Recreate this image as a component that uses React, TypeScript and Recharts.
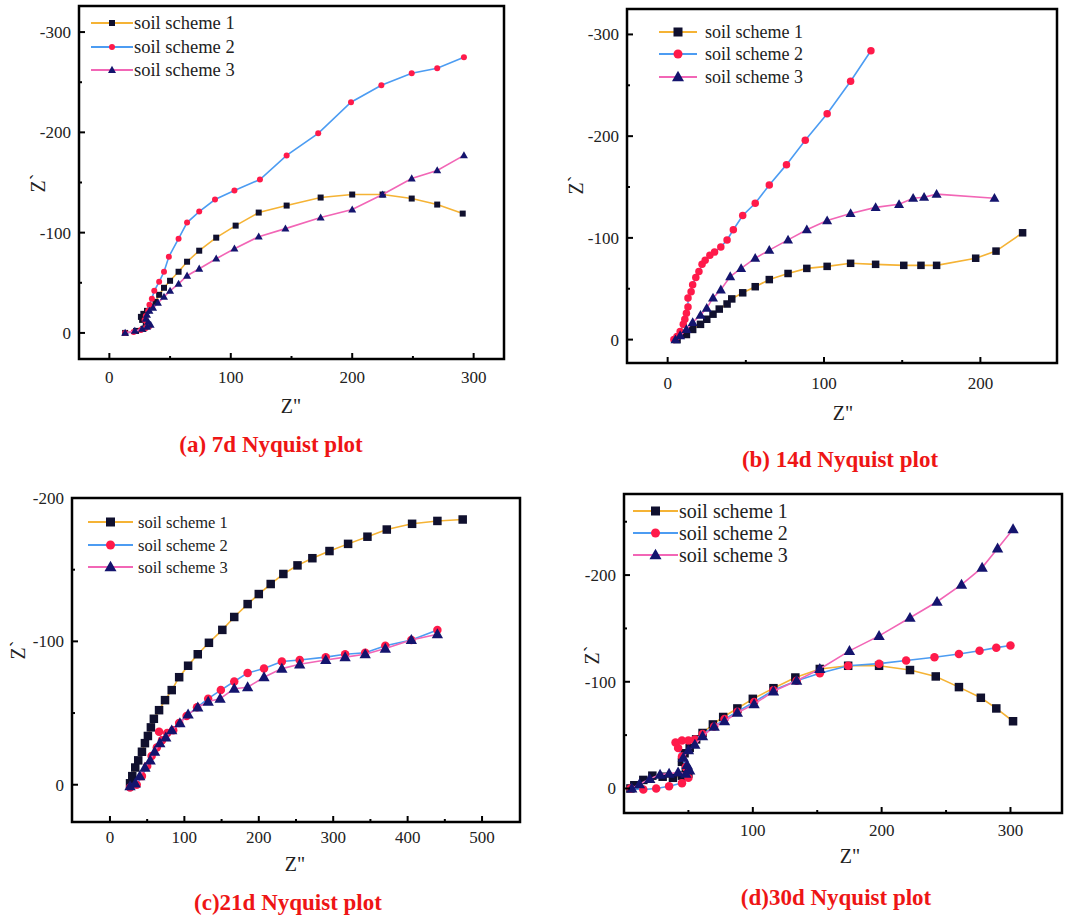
import React from 'react';
import { ScatterChart, Scatter, XAxis, YAxis, ReferenceArea } from 'recharts';

type Pair = [number, number];

// Z'' , Z' pairs (Z' plotted negative, axis reversed)

// (a) 7d
const a7dScheme1: Pair[] = [
  [13, 0], [22, -2], [28, -4], [32, -7], [30, -10], [27, -13], [26, -16], [28, -19], [31, -22],
  [34, -26], [38, -31], [41, -38], [45, -45], [50, -52], [57, -61], [64, -71], [74, -82], [88, -95],
  [104, -107], [123, -120], [146, -127], [174, -135], [200, -138], [225, -138], [249, -134],
  [270, -128], [291, -119],
];
const a7dScheme2: Pair[] = [
  [13, 0], [20, -1], [26, -3], [30, -5], [33, -7], [31, -10], [29, -13], [30, -17], [32, -22],
  [33, -28], [35, -34], [37, -42], [41, -51], [45, -61], [49, -76], [57, -94], [64, -110],
  [74, -121], [87, -133], [103, -142], [124, -153], [146, -177], [172, -199], [199, -230],
  [224, -247], [249, -259], [270, -264], [292, -275],
];
const a7dScheme3: Pair[] = [
  [13, 0], [21, -2], [27, -4], [31, -6], [34, -8], [32, -11], [30, -14], [31, -18], [33, -22],
  [36, -25], [40, -30], [45, -36], [50, -42], [57, -49], [64, -57], [74, -64], [88, -74],
  [103, -84], [123, -96], [145, -104], [174, -115], [200, -123], [225, -138], [249, -154],
  [270, -162], [292, -177],
];

// (b) 14d
const b14dScheme1: Pair[] = [
  [6, 0], [12, -5], [16, -10], [21, -15], [25, -20], [29, -25], [33, -30], [38, -35], [41, -40],
  [48, -46], [56, -52], [65, -59], [77, -65], [89, -70], [102, -72], [117, -75], [133, -74],
  [151, -73], [162, -73], [172, -73], [197, -80], [210, -87], [227, -105],
];
const b14dScheme2: Pair[] = [
  [4, 0], [6, -3], [8, -8], [10, -15], [11, -20], [12, -26], [13, -32], [13, -41], [15, -47],
  [16, -54], [18, -61], [20, -67], [22, -74], [24, -78], [27, -83], [30, -86], [34, -91],
  [38, -98], [42, -108], [48, -122], [56, -134], [65, -152], [76, -172], [88, -196],
  [102, -222], [117, -254], [130, -284],
];
const b14dScheme3: Pair[] = [
  [5, 0], [8, -4], [12, -10], [16, -17], [21, -24], [25, -31], [29, -41], [34, -49], [40, -62],
  [47, -70], [56, -80], [65, -88], [77, -98], [89, -108], [102, -117], [117, -124], [133, -130],
  [148, -133], [157, -139], [164, -140], [172, -143], [209, -139],
];

// (c) 21d
const c21dScheme1: Pair[] = [
  [27, -1], [30, -6], [34, -12], [38, -17], [43, -23], [47, -29], [51, -34], [55, -40], [59, -46],
  [66, -52], [74, -59], [83, -66], [93, -75], [105, -83], [118, -91], [133, -99], [151, -108],
  [167, -117], [185, -126], [200, -133], [216, -140], [233, -147], [252, -153], [272, -158],
  [295, -163], [320, -168], [346, -173], [372, -178], [406, -182], [440, -184], [474, -185],
];
const c21dScheme2: Pair[] = [
  [27, 2], [36, 0], [43, -6], [50, -13], [56, -20], [63, -26], [70, -31], [66, -37], [77, -36],
  [85, -38], [93, -43], [103, -48], [117, -54], [132, -60], [149, -66], [167, -72], [185, -78],
  [207, -81], [231, -86], [255, -87], [290, -89], [316, -91], [343, -92], [370, -97],
  [405, -101], [440, -108],
];
const c21dScheme3: Pair[] = [
  [27, 1], [34, -1], [40, -6], [47, -12], [54, -17], [60, -23], [67, -29], [75, -33], [83, -38],
  [94, -43], [105, -49], [118, -54], [132, -58], [148, -60], [167, -67], [185, -68], [207, -75],
  [231, -81], [255, -84], [290, -87], [316, -89], [343, -91], [370, -95], [405, -101], [440, -105],
];

// (d) 30d
const d30dScheme1: Pair[] = [
  [5, 0], [8, -3], [15, -8], [22, -12], [30, -11], [38, -10], [45, -12], [50, -14], [48, -18],
  [45, -25], [47, -33], [51, -38], [56, -46], [61, -52], [69, -60], [77, -67], [88, -75],
  [100, -84], [116, -94], [133, -104], [152, -112], [174, -115], [198, -115], [222, -111],
  [242, -105], [260, -95], [277, -85], [289, -75], [302, -63],
];
const d30dScheme2: Pair[] = [
  [5, 0], [15, 1], [25, 0], [35, -2], [45, -5], [50, -10], [48, -20], [45, -30], [42, -38],
  [40, -43], [45, -45], [50, -45], [55, -46], [61, -51], [70, -58], [78, -65], [88, -72],
  [101, -81], [116, -92], [134, -101], [152, -108], [174, -115], [198, -117], [219, -120],
  [241, -123], [260, -126], [276, -129], [289, -132], [300, -134],
];
const d30dScheme3: Pair[] = [
  [6, 0], [12, -4], [20, -9], [28, -13], [35, -14], [42, -15], [48, -14], [51, -17], [49, -22],
  [46, -29], [50, -36], [55, -41], [61, -49], [70, -58], [78, -63], [88, -71], [101, -79],
  [116, -91], [134, -101], [152, -112], [175, -129], [198, -143], [222, -160], [243, -175],
  [262, -191], [278, -207], [290, -225], [302, -243],
];

const seriesNames = ['soil scheme 1', 'soil scheme 2', 'soil scheme 3'];

const LINE_COLORS = ['#F5B335', '#4C9CF2', '#F266B6'];
const MARK_COLORS = ['#10102E', '#FF1A4A', '#14146E'];
const MARKS = ['square', 'circle', 'triangle'];
const FONT = '"Liberation Serif", "Times New Roman", serif';

const YW = 70; // y axis width
const MT = 10;
const MR = 8;
const XH = 70; // x axis height

function Marker({ cx, cy, kind, size, color }: any) {
  if (cx == null || cy == null) return null;
  if (kind === 'square') {
    return <rect x={cx - size / 2} y={cy - size / 2} width={size} height={size} fill={color} />;
  }
  if (kind === 'circle') {
    return <circle cx={cx} cy={cy} r={size / 2} fill={color} />;
  }
  const s = size * 1.15;
  return (
    <polygon
      points={`${cx},${cy - s * 0.6} ${cx - s * 0.58},${cy + s * 0.42} ${cx + s * 0.58},${cy + s * 0.42}`}
      fill={color}
    />
  );
}

const XTick = (props: any) => {
  const { x, y, payload, majors, dy } = props;
  const major = majors.includes(payload.value);
  return (
    <g>
      <line x1={x} x2={x} y1={y} y2={y - (major ? 6 : 3)} stroke="#000" strokeWidth={2} />
      {major && (
        <text x={x} y={y + dy} textAnchor="middle" fontSize={17} fill="#222" fontFamily={FONT}>
          {payload.value}
        </text>
      )}
    </g>
  );
};

const YTick = (props: any) => {
  const { x, y, payload, majors } = props;
  const major = majors.includes(payload.value);
  return (
    <g>
      <line x1={x} x2={x + (major ? 6 : 3)} y1={y} y2={y} stroke="#000" strokeWidth={2} />
      {major && (
        <text x={x - 8} y={y + 6} textAnchor="end" fontSize={17} fill="#222" fontFamily={FONT}>
          {payload.value}
        </text>
      )}
    </g>
  );
};

interface PanelProps {
  frame: { left: number; top: number; right: number; bottom: number };
  xDomain: [number, number];
  yDomain: [number, number];
  xMajor: number[];
  xMinor: number[];
  yMajor: number[];
  yMinor: number[];
  series: Pair[][];
  markSize: number;
  xTickDy: number;
  xTitle: { x: number; y: number };
  yTitle: { x: number; y: number };
  legend: { x1: number; x2: number; textX: number; rows: number[]; fontSize: number; mark: number };
  caption: { text: string; x: number; y: number };
}

function Panel(p: PanelProps) {
  const { frame } = p;
  const ox = frame.left - YW;
  const oy = frame.top - MT;
  const width = frame.right - frame.left + YW + MR;
  const height = frame.bottom - frame.top + MT + XH;
  const xTicks = [...p.xMajor, ...p.xMinor].sort((a, b) => a - b);
  const yTicks = [...p.yMajor, ...p.yMinor].sort((a, b) => a - b);

  return (
    <>
      <div style={{ position: 'absolute', left: ox, top: oy }}>
        <ScatterChart width={width} height={height} margin={{ top: MT, right: MR, left: 0, bottom: 0 }}>
          <XAxis
            type="number"
            dataKey="x"
            domain={p.xDomain}
            allowDataOverflow
            ticks={xTicks}
            interval={0}
            height={XH}
            axisLine={false}
            tickLine={false}
            tickSize={0}
            tickMargin={0}
            tick={(t: any) => <XTick {...t} majors={p.xMajor} dy={p.xTickDy} />}
            label={(
              (_: any) => (
                <text
                  x={p.xTitle.x - ox}
                  y={p.xTitle.y - oy}
                  textAnchor="middle"
                  fontSize={20}
                  fill="#222"
                  fontFamily={FONT}
                >
                  Z"
                </text>
              )
            ) as any}
          />
          <YAxis
            type="number"
            dataKey="y"
            domain={p.yDomain}
            allowDataOverflow
            reversed
            ticks={yTicks}
            interval={0}
            width={YW}
            axisLine={false}
            tickLine={false}
            tickSize={0}
            tickMargin={0}
            tick={(t: any) => <YTick {...t} majors={p.yMajor} />}
            label={(
              (_: any) => (
                <text
                  x={p.yTitle.x - ox}
                  y={p.yTitle.y - oy}
                  textAnchor="middle"
                  dominantBaseline="central"
                  fontSize={20}
                  fill="#222"
                  fontFamily={FONT}
                  transform={`rotate(-90 ${p.yTitle.x - ox} ${p.yTitle.y - oy})`}
                >
                  Z`
                </text>
              )
            ) as any}
          />
          <ReferenceArea
            x1={p.xDomain[0]}
            x2={p.xDomain[1]}
            y1={p.yDomain[0]}
            y2={p.yDomain[1]}
            fill="none"
            fillOpacity={0}
            stroke="#000"
            strokeWidth={2.5}
            ifOverflow="visible"
          />
          {p.series.map((s, i) => (
            <Scatter
              key={seriesNames[i]}
              name={seriesNames[i]}
              data={s.map(([x, y]) => ({ x, y }))}
              line={{ stroke: LINE_COLORS[i], strokeWidth: 1.6 }}
              lineType="joint"
              isAnimationActive={false}
              shape={(sp: any) => (
                <Marker cx={sp.cx} cy={sp.cy} kind={MARKS[i]} size={p.markSize} color={MARK_COLORS[i]} />
              )}
            />
          ))}
        </ScatterChart>
      </div>
      <svg
        width={1071}
        height={918}
        style={{ position: 'absolute', left: 0, top: 0, pointerEvents: 'none' }}
      >
        {seriesNames.map((name, i) => {
          const y = p.legend.rows[i];
          return (
            <g key={name}>
              <line x1={p.legend.x1} x2={p.legend.x2} y1={y} y2={y} stroke={LINE_COLORS[i]} strokeWidth={1.8} />
              <Marker
                cx={(p.legend.x1 + p.legend.x2) / 2}
                cy={y}
                kind={MARKS[i]}
                size={p.legend.mark}
                color={MARK_COLORS[i]}
              />
              <text
                x={p.legend.textX}
                y={y}
                dominantBaseline="central"
                fontSize={p.legend.fontSize}
                fill="#222"
                fontFamily={FONT}
              >
                {name}
              </text>
            </g>
          );
        })}
      </svg>
      <div
        style={{
          position: 'absolute',
          left: p.caption.x - 200,
          top: p.caption.y - 14,
          width: 400,
          textAlign: 'center',
          fontFamily: FONT,
          fontWeight: 'bold',
          fontSize: 23,
          lineHeight: '28px',
          color: '#EE1515',
          whiteSpace: 'nowrap',
        }}
      >
        {p.caption.text}
      </div>
    </>
  );
}

export default function App() {
  return (
    <div
      style={{
        position: 'absolute',
        left: 0,
        top: 0,
        width: 1071,
        height: 918,
        background: '#fff',
        overflow: 'hidden',
      }}
    >
      <Panel
        frame={{ left: 79, top: 6, right: 504, bottom: 359 }}
        xDomain={[-25, 325]}
        yDomain={[-326, 26]}
        xMajor={[0, 100, 200, 300]}
        xMinor={[50, 150, 250]}
        yMajor={[-300, -200, -100, 0]}
        yMinor={[-250, -150, -50]}
        series={[a7dScheme1, a7dScheme2, a7dScheme3]}
        markSize={6}
        xTickDy={24}
        xTitle={{ x: 291, y: 413 }}
        yTitle={{ x: 38, y: 183 }}
        legend={{ x1: 91, x2: 133, textX: 134, rows: [23, 47, 70], fontSize: 18.5, mark: 6 }}
        caption={{ text: '(a) 7d Nyquist plot', x: 271, y: 445 }}
      />
      <Panel
        frame={{ left: 627, top: 9, right: 1057, bottom: 363 }}
        xDomain={[-26, 249]}
        yDomain={[-325, 23]}
        xMajor={[0, 100, 200]}
        xMinor={[50, 150]}
        yMajor={[-300, -200, -100, 0]}
        yMinor={[-250, -150, -50]}
        series={[b14dScheme1, b14dScheme2, b14dScheme3]}
        markSize={7.5}
        xTickDy={26}
        xTitle={{ x: 843, y: 420 }}
        yTitle={{ x: 576, y: 185 }}
        legend={{ x1: 659, x2: 697, textX: 705, rows: [32, 54, 77], fontSize: 18, mark: 9 }}
        caption={{ text: '(b) 14d Nyquist plot', x: 840, y: 460 }}
      />
      <Panel
        frame={{ left: 72, top: 498, right: 520, bottom: 822 }}
        xDomain={[-51, 551]}
        yDomain={[-200, 26]}
        xMajor={[0, 100, 200, 300, 400, 500]}
        xMinor={[50, 150, 250, 350, 450]}
        yMajor={[-200, -100, 0]}
        yMinor={[-150, -50]}
        series={[c21dScheme1, c21dScheme2, c21dScheme3]}
        markSize={8.5}
        xTickDy={21}
        xTitle={{ x: 295, y: 871 }}
        yTitle={{ x: 18, y: 650 }}
        legend={{ x1: 88, x2: 133, textX: 138, rows: [522, 545, 567], fontSize: 16.5, mark: 9 }}
        caption={{ text: '(c)21d Nyquist plot', x: 288, y: 903 }}
      />
      <Panel
        frame={{ left: 624, top: 494, right: 1062, bottom: 813 }}
        xDomain={[0, 340]}
        yDomain={[-276, 23]}
        xMajor={[100, 200, 300]}
        xMinor={[50, 150, 250]}
        yMajor={[-200, -100, 0]}
        yMinor={[-250, -150, -50]}
        series={[d30dScheme1, d30dScheme2, d30dScheme3]}
        markSize={8.5}
        xTickDy={23}
        xTitle={{ x: 850, y: 863 }}
        yTitle={{ x: 592, y: 655 }}
        legend={{ x1: 633, x2: 678, textX: 679, rows: [511, 533, 555], fontSize: 20, mark: 9 }}
        caption={{ text: '(d)30d Nyquist plot', x: 836, y: 898 }}
      />
    </div>
  );
}
